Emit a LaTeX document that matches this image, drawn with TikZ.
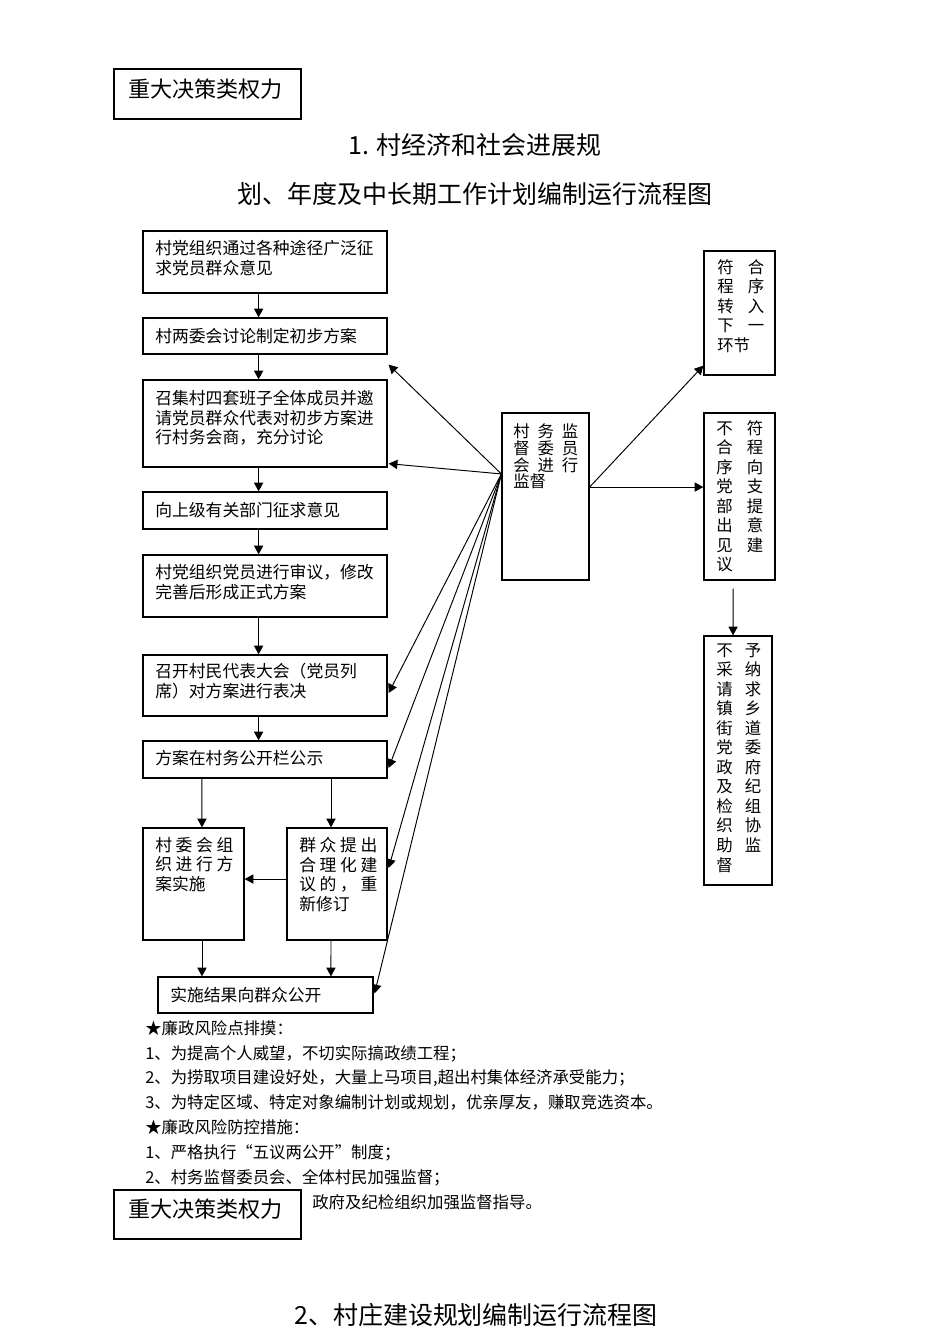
\documentclass[tikz,border=0pt]{standalone}
\usepackage{fontspec}
\setmainfont{Noto Sans CJK SC}
\usetikzlibrary{arrows.meta,fit,positioning}

\tikzset{
  box/.style={draw, line width=0.8pt, inner sep=0pt},
  txt/.style={inner sep=0pt, align=left, font=\fontsize{10.5pt}{12.2pt}\selectfont},
  jtxt/.style={txt, anchor=north west, text width=#1},
  head/.style={anchor=west, inner sep=0pt, font=\fontsize{13.8pt}{16pt}\selectfont},
  ttl/.style={inner sep=0pt, font=\fontsize{15.6pt}{18pt}\selectfont},
  arr/.style={line width=0.6pt, -{Triangle[length=5.5pt,width=5.8pt]}},
}

\begin{document}
\begin{tikzpicture}[x=0.625pt, y=-0.625pt]
	\fill[white] (0,0) rectangle (950,1344);
	\useasboundingbox (0,0) rectangle (950,1344);
	% Header and title
	\node[box, fit={(114,69) (301,119)}] (head1) {};
	\node[head] (head1t) at (128,89) {重大决策类权力};
	\node[ttl] (title1) at (475,145) {1. 村经济和社会进展规};
	\node[ttl] (title2) at (475,194) {划、年度及中长期工作计划编制运行流程图};
	% Main column
	\node[box, fit={(143,231) (387,293)}] (b1) {};
	\node[txt, anchor=north west] (b1t) at (155,240) {村党组织通过各种途径广泛征\\求党员群众意见};
	\node[box, fit={(143,318) (387,354)}] (b2) {};
	\node[txt, anchor=west] (b2t) at (155,336) {村两委会讨论制定初步方案};
	\node[box, fit={(143,380) (387,467)}] (b3) {};
	\node[txt, anchor=north west] (b3t) at (155,390) {召集村四套班子全体成员并邀\\请党员群众代表对初步方案进\\行村务会商，充分讨论};
	\node[box, fit={(143,492) (387,529)}] (b4) {};
	\node[txt, anchor=west] (b4t) at (155,510) {向上级有关部门征求意见};
	\node[box, fit={(143,555) (387,617)}] (b5) {};
	\node[txt, anchor=north west] (b5t) at (155,564) {村党组织党员进行审议，修改\\完善后形成正式方案};
	\node[box, fit={(143,655) (387,716)}] (b6) {};
	\node[txt, anchor=north west] (b6t) at (155,663) {召开村民代表大会（党员列\\席）对方案进行表决};
	\node[box, fit={(143,741) (387,778)}] (b7) {};
	\node[txt, anchor=west] (b7t) at (155,758) {方案在村务公开栏公示};
	\node[box, fit={(143,828) (244,940)}] (b8) {};
	\node[jtxt=48.75pt] (b8t) at (155,837) {村\hfill 委\hfill 会\hfill 组\\织\hfill 进\hfill 行\hfill 方\\案实施};
	\node[box, fit={(287,828) (387,940)}] (b9) {};
	\node[jtxt=48.75pt] (b9t) at (299,837) {群\hfill 众\hfill 提\hfill 出\\合\hfill 理\hfill 化\hfill 建\\议\hfill 的\hfill ，\hfill 重\\新修订};
	\node[box, fit={(158,977) (373,1013)}] (b10) {};
	\node[txt, anchor=west] (b10t) at (170,995) {实施结果向群众公开};
	% Supervision and right column
	\node[box, fit={(502,413) (589,580)}] (m) {};
	\node[jtxt=40.6pt, font=\fontsize{10.25pt}{10.6pt}\selectfont] (mt) at (513,423) {村\hfill 务\hfill 监\\督\hfill 委\hfill 员\\会\hfill 进\hfill 行\\监督};
	\node[box, fit={(704,251) (775,375)}] (r1) {};
	\node[jtxt=29.4pt, font=\fontsize{10.25pt}{12.2pt}\selectfont] (r1t) at (717,259) {符\hfill 合\\程\hfill 序\\转\hfill 入\\下\hfill 一\\环节};
	\node[box, fit={(704,413) (775,580)}] (r2) {};
	\node[jtxt=29.4pt, font=\fontsize{10.25pt}{12.2pt}\selectfont] (r2t) at (716,420) {不\hfill 符\\合\hfill 程\\序\hfill 向\\党\hfill 支\\部\hfill 提\\出\hfill 意\\见\hfill 建\\议};
	\node[box, fit={(704,636) (772,885)}] (r3) {};
	\node[jtxt=28.1pt, font=\fontsize{10.25pt}{12.2pt}\selectfont] (r3t) at (716,643) {不\hfill 予\\采\hfill 纳\\请\hfill 求\\镇\hfill 乡\\街\hfill 道\\党\hfill 委\\政\hfill 府\\及\hfill 纪\\检\hfill 组\\织\hfill 协\\助\hfill 监\\督};
	% Flow arrows
	\draw[arr] ([xshift=-4pt]b1.south) -- ([xshift=-4pt]b2.north);
	\draw[arr] ([xshift=-4pt]b2.south) -- ([xshift=-4pt]b3.north);
	\draw[arr] ([xshift=-4pt]b3.south) -- ([xshift=-4pt]b4.north);
	\draw[arr] ([xshift=-4pt]b4.south) -- ([xshift=-4pt]b5.north);
	\draw[arr] ([xshift=-4pt]b5.south) -- ([xshift=-4pt]b6.north);
	\draw[arr] ([xshift=-4pt]b6.south) -- ([xshift=-4pt]b7.north);
	\draw[arr] ([xshift=-39.4pt]b7.south) -- ([xshift=5.3pt]b8.north);
	\draw[arr] ([xshift=41.25pt]b7.south) -- ([xshift=-3.75pt]b9.north);
	\draw[arr] ([yshift=3.1pt]b9.west) -- ([yshift=3.1pt]b8.east);
	\draw[arr] ([xshift=5.3pt]b8.south) -- ([xshift=-39.7pt]b10.north);
	\draw[arr] ([xshift=-3.75pt]b9.south) -- ([xshift=40.9pt]b10.north);
	% Supervision arrows
	\draw[arr] ([yshift=14.1pt]m.west) -- ([shift={(0.6pt,-6.25pt)}]b2.south east);
	\draw[arr] ([yshift=14.1pt]m.west) -- ([shift={(0.6pt,2.5pt)}]b3.south east);
	\draw[arr] ([yshift=14.1pt]m.west) -- ([shift={(0.6pt,-4.7pt)}]b6.east);
	\draw[arr] ([yshift=14.1pt]m.west) -- ([shift={(0.6pt,-5.3pt)}]b7.east);
	\draw[arr] ([yshift=14.1pt]m.west) -- ([shift={(0.6pt,10pt)}]b9.east);
	\draw[arr] ([yshift=14.1pt]m.west) -- ([shift={(0.6pt,1pt)}]b10.east);
	\draw[arr] ([yshift=5.9pt]m.east) -- ([yshift=6.25pt]r1.south west);
	\draw[arr] ([yshift=5.9pt]m.east) -- ([yshift=5.9pt]r2.west);
	\draw[arr] ([shift={(-4pt,-5pt)}]r2.south) -- ([xshift=-3.1pt]r3.north);
	% Risk notes
	\node[txt, anchor=north west, font=\fontsize{10.25pt}{15.5pt}\selectfont] (risk) at (145,1020)
		{★廉政风险点排摸：\\
		1、为提高个人威望，不切实际搞政绩工程；\\
		2、为捞取项目建设好处，大量上马项目,超出村集体经济承受能力；\\
		3、为特定区域、特定对象编制计划或规划，优亲厚友，赚取竞选资本。\\
		★廉政风险防控措施：\\
		1、严格执行“五议两公开”制度；\\
		2、村务监督委员会、全体村民加强监督；};
	\node[txt, anchor=west, font=\fontsize{10.25pt}{12.2pt}\selectfont] (risk3) at (312,1202) {政府及纪检组织加强监督指导。};
	% Second header
	\node[box, fill=white, fit={(114,1190) (301,1239)}] (head2) {};
	\node[head] (head2t) at (128,1209) {重大决策类权力};
	\node[ttl] (title3) at (476,1315) {2、村庄建设规划编制运行流程图};
\end{tikzpicture}
\end{document}
